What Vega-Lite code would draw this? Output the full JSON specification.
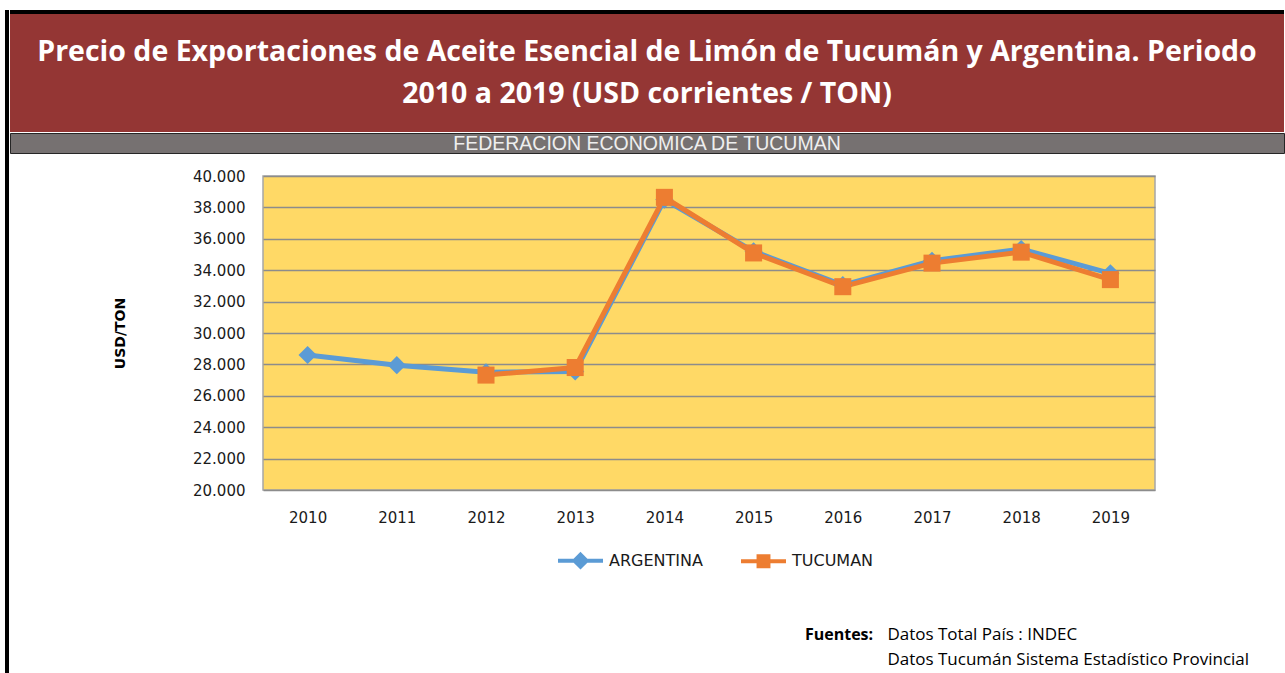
{
  "$schema": "https://vega.github.io/schema/vega-lite/v6.json",
  "background": "white",
  "padding": {"left": 5, "top": 10, "right": 0, "bottom": 0},
  "config": {"view": {"stroke": null}, "font": "DejaVu Sans"},
  "spacing": 0,
  "hconcat": [
    {
      "width": 4, "height": 663,
      "view": {"fill": "#000000", "stroke": null},
      "data": {"values": []},
      "mark": "text"
    },
    {
      "spacing": 14,
      "vconcat": [
        {
          "spacing": 0,
          "vconcat": [
            {
              "width": 1274, "height": 4,
              "view": {"fill": "#000000", "stroke": null},
              "data": {"values": []},
              "mark": "text"
            },
            {
              "width": 1274, "height": 118,
              "view": {"fill": "#943634", "stroke": null},
              "data": {"values": [
                {"linea": 1, "titulo": "Precio de Exportaciones  de Aceite Esencial de Limón  de Tucumán y Argentina. Periodo"},
                {"linea": 2, "titulo": "2010 a 2019 (USD corrientes  / TON)"}
              ]},
              "mark": {"type": "text", "font": "Open Sans", "fontWeight": "bold", "fontSize": 28.5, "color": "#ffffff", "baseline": "middle"},
              "encoding": {
                "y": {"field": "linea", "type": "ordinal", "axis": null, "scale": {"type": "point", "padding": 0.9}},
                "text": {"field": "titulo"}
              }
            },
            {
              "width": 1274, "height": 20,
              "view": {"fill": "#767171", "stroke": "#262626", "strokeWidth": 1},
              "data": {"values": [{"texto": "FEDERACION ECONOMICA DE TUCUMAN"}]},
              "mark": {"type": "text", "font": "Liberation Sans", "fontSize": 19.5, "color": "#eeeeee", "baseline": "middle", "dy": 1},
              "encoding": {"text": {"field": "texto"}}
            }
          ]
        },
        {
          "spacing": 0,
          "hconcat": [
            {
              "width": 102, "height": 10,
              "data": {"values": []},
              "mark": "text"
            },
            {
              "spacing": 96,
              "vconcat": [
                {
                  "width": 892, "height": 314,
                  "view": {"fill": "#FFD966", "stroke": "#a6a6a6", "strokeWidth": 1.5},
                  "data": {"values": [
                    {"anio": "2010", "serie": "ARGENTINA", "precio": 28600},
                    {"anio": "2011", "serie": "ARGENTINA", "precio": 27950},
                    {"anio": "2012", "serie": "ARGENTINA", "precio": 27500},
                    {"anio": "2013", "serie": "ARGENTINA", "precio": 27550},
                    {"anio": "2014", "serie": "ARGENTINA", "precio": 38500},
                    {"anio": "2015", "serie": "ARGENTINA", "precio": 35200},
                    {"anio": "2016", "serie": "ARGENTINA", "precio": 33050},
                    {"anio": "2017", "serie": "ARGENTINA", "precio": 34600},
                    {"anio": "2018", "serie": "ARGENTINA", "precio": 35350},
                    {"anio": "2019", "serie": "ARGENTINA", "precio": 33800},
                    {"anio": "2012", "serie": "TUCUMAN", "precio": 27320},
                    {"anio": "2013", "serie": "TUCUMAN", "precio": 27800},
                    {"anio": "2014", "serie": "TUCUMAN", "precio": 38640},
                    {"anio": "2015", "serie": "TUCUMAN", "precio": 35100},
                    {"anio": "2016", "serie": "TUCUMAN", "precio": 32950},
                    {"anio": "2017", "serie": "TUCUMAN", "precio": 34450},
                    {"anio": "2018", "serie": "TUCUMAN", "precio": 35150},
                    {"anio": "2019", "serie": "TUCUMAN", "precio": 33400}
                  ]},
                  "encoding": {
                    "x": {
                      "field": "anio", "type": "ordinal", "title": null,
                      "scale": {"type": "point", "padding": 0.5},
                      "axis": {"labelAngle": 0, "ticks": false, "domain": false, "labelPadding": 20, "labelFont": "DejaVu Sans", "labelFontSize": 15, "labelColor": "#1a1a1a"}
                    },
                    "y": {
                      "field": "precio", "type": "quantitative", "title": "USD/TON",
                      "scale": {"domain": [20000, 40000], "nice": false, "zero": false},
                      "axis": {
                        "values": [20000, 22000, 24000, 26000, 28000, 30000, 32000, 34000, 36000, 38000, 40000],
                        "labelExpr": "replace(format(datum.value, ','), ',', '.')",
                        "ticks": false, "domain": false, "labelPadding": 18,
                        "labelFont": "DejaVu Sans", "labelFontSize": 15, "labelColor": "#1a1a1a",
                        "grid": true, "gridColor": "#8c8c8c", "gridWidth": 1.5,
                        "titleFont": "DejaVu Sans", "titleFontSize": 14, "titleFontWeight": "bold", "titleColor": "#000000", "titlePadding": 65
                      }
                    },
                    "color": {
                      "field": "serie", "type": "nominal",
                      "scale": {"domain": ["ARGENTINA", "TUCUMAN"], "range": ["#5B9BD5", "#ED7D31"]},
                      "legend": {
                        "title": null, "orient": "none", "direction": "horizontal",
                        "legendX": 551, "legendY": 526, "padding": 0,
                        "symbolType": "M-1,0H1M-0.22,-0.22H0.22V0.22H-0.22Z",
                        "symbolSize": 2025, "symbolStrokeWidth": 4, "columnPadding": 30, "labelOffset": 4,
                        "labelFont": "DejaVu Sans", "labelFontSize": 16, "labelColor": "#1a1a1a",
                        "encode": {"symbols": {"update": {
                          "shape": {"signal": "datum.value === 'ARGENTINA' ? 'M-1,0H1M0,-0.27L0.27,0L0,0.27L-0.27,0Z' : 'M-1,0H1M-0.22,-0.22H0.22V0.22H-0.22Z'"},
                          "stroke": {"scale": "color", "field": "value"},
                          "fill": {"scale": "color", "field": "value"},
                          "strokeWidth": {"value": 4}
                        }}}
                      }
                    }
                  },
                  "layer": [
                    {"mark": {"type": "line", "strokeWidth": 5}},
                    {
                      "transform": [{"filter": "datum.serie === 'ARGENTINA'"}],
                      "mark": {"type": "point", "shape": "diamond", "filled": true, "opacity": 1, "size": 330}
                    },
                    {
                      "transform": [{"filter": "datum.serie === 'TUCUMAN'"}],
                      "mark": {"type": "point", "shape": "square", "filled": true, "opacity": 1, "size": 290}
                    }
                  ]
                },
                {
                  "width": 892, "height": 50,
                  "layer": [
                    {
                      "data": {"values": [{"etiqueta": "Fuentes:", "linea": 1}]},
                      "mark": {"type": "text", "align": "right", "baseline": "middle", "font": "Open Sans", "fontWeight": "bold", "fontSize": 16, "color": "#000000"},
                      "encoding": {
                        "x": {"field": "etiqueta", "type": "nominal", "axis": null, "scale": {"type": "point", "align": 0.684}},
                        "y": {"field": "linea", "type": "ordinal", "axis": null, "scale": {"type": "point", "domain": [1, 2]}},
                        "text": {"field": "etiqueta"}
                      }
                    },
                    {
                      "data": {"values": [
                        {"columna": "Datos", "linea": 1, "fuente": "Datos Total País : INDEC"},
                        {"columna": "Datos", "linea": 2, "fuente": "Datos Tucumán Sistema Estadístico Provincial"}
                      ]},
                      "mark": {"type": "text", "align": "left", "baseline": "middle", "font": "Open Sans", "fontSize": 17, "color": "#000000"},
                      "encoding": {
                        "x": {"field": "columna", "type": "nominal", "axis": null, "scale": {"type": "point", "align": 0.7}},
                        "y": {"field": "linea", "type": "ordinal", "axis": null, "scale": {"type": "point", "domain": [1, 2]}},
                        "text": {"field": "fuente"}
                      }
                    }
                  ],
                  "resolve": {"scale": {"x": "independent"}}
                }
              ]
            }
          ]
        }
      ]
    },
    {
      "width": 1, "height": 663,
      "view": {"fill": "#7f7f7f", "stroke": null},
      "data": {"values": []},
      "mark": "text"
    }
  ]
}
